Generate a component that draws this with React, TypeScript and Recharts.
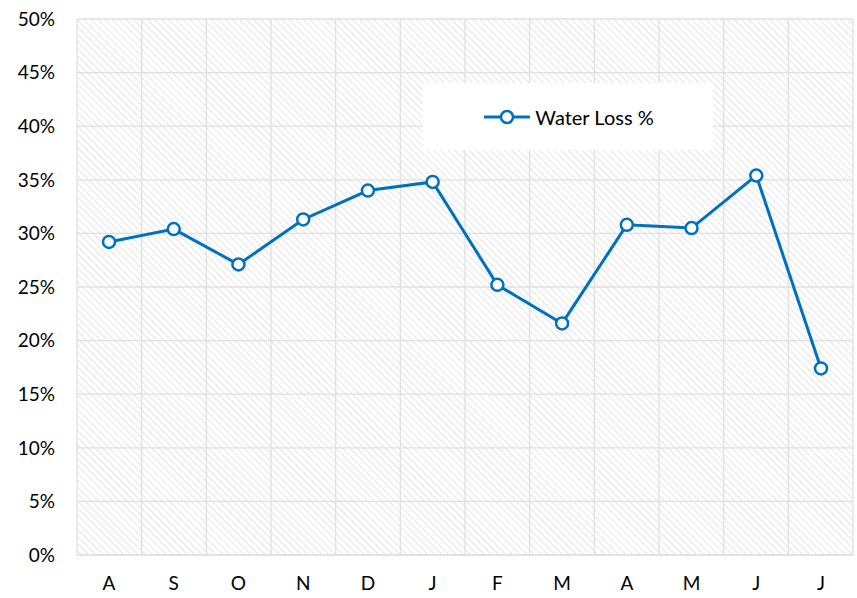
import { LineChart, Line, XAxis, YAxis, CartesianGrid } from 'recharts';

const months = ['A', 'S', 'O', 'N', 'D', 'J', 'F', 'M', 'A', 'M', 'J', 'J'];
const waterLoss = [29.2, 30.4, 27.1, 31.3, 34.0, 34.8, 25.2, 21.6, 30.8, 30.5, 35.4, 17.4];
const yTicks = [0, 5, 10, 15, 20, 25, 30, 35, 40, 45, 50];

const data = months.map((m, i) => ({ idx: i, month: m, loss: waterLoss[i] }));

const BLUE = '#0070C0';
const FONT = 'Lato, "Open Sans", sans-serif';

// legend sits inside the plot on its own white box, like the Excel original
function LegendBox() {
  return (
    <div
      style={{
        position: 'absolute', left: 423, top: 83, width: 290, height: 67,
        background: '#fff', display: 'flex', alignItems: 'center', justifyContent: 'center',
      }}
    >
      <svg width={50} height={20} style={{ marginRight: 3 }}>
        <line x1={2} y1={10} x2={48} y2={10} stroke={BLUE} strokeWidth={3} />
        <circle cx={25} cy={10} r={6} fill="#fff" stroke={BLUE} strokeWidth={2.5} />
      </svg>
      <span style={{ fontFamily: FONT, fontSize: 20, color: '#000' }}>Water Loss %</span>
    </div>
  );
}

export default function App() {
  return (
    <div style={{ position: 'absolute', left: 0, top: 0, width: 857, height: 598, background: '#fff' }}>
      <LineChart width={857} height={598} data={data} margin={{ top: 19, right: 4, bottom: 13, left: 0 }}>
        <defs>
          <pattern id="hatch" width={5} height={5} patternUnits="userSpaceOnUse" patternTransform="rotate(-45)">
            <rect width={5} height={5} fill="#fff" />
            <line x1={0} y1={0} x2={0} y2={5} stroke="#e2e2e2" strokeWidth={1.8} />
          </pattern>
        </defs>
        <CartesianGrid
          fill="url(#hatch)"
          fillOpacity={1}
          stroke="#e0e0e0"
          strokeWidth={1.3}
          verticalCoordinatesGenerator={({ offset }: any) =>
            months.map((_, i) => offset.left + (i * offset.width) / months.length).concat(offset.left + offset.width)
          }
        />
        <XAxis
          dataKey="month"
          axisLine={{ stroke: '#e0e0e0', strokeWidth: 1.3 }}
          tickLine={false}
          tickMargin={16}
          height={30}
          interval={0}
          padding={{ left: 32, right: 32 }}
          tick={{ fill: '#000', fontSize: 19, fontFamily: FONT }}
        />
        <YAxis
          width={77}
          domain={[0, 50]}
          ticks={yTicks}
          tickFormatter={(v) => `${v}%`}
          axisLine={false}
          tickLine={false}
          tickMargin={16}
          tick={{ fill: '#000', fontSize: 19, fontFamily: FONT }}
        />
        <Line
          dataKey="loss"
          name="Water Loss %"
          stroke={BLUE}
          strokeWidth={3}
          dot={{ r: 6, fill: '#fff', stroke: BLUE, strokeWidth: 2.5 }}
          isAnimationActive={false}
        />
      </LineChart>
      <LegendBox />
    </div>
  );
}
